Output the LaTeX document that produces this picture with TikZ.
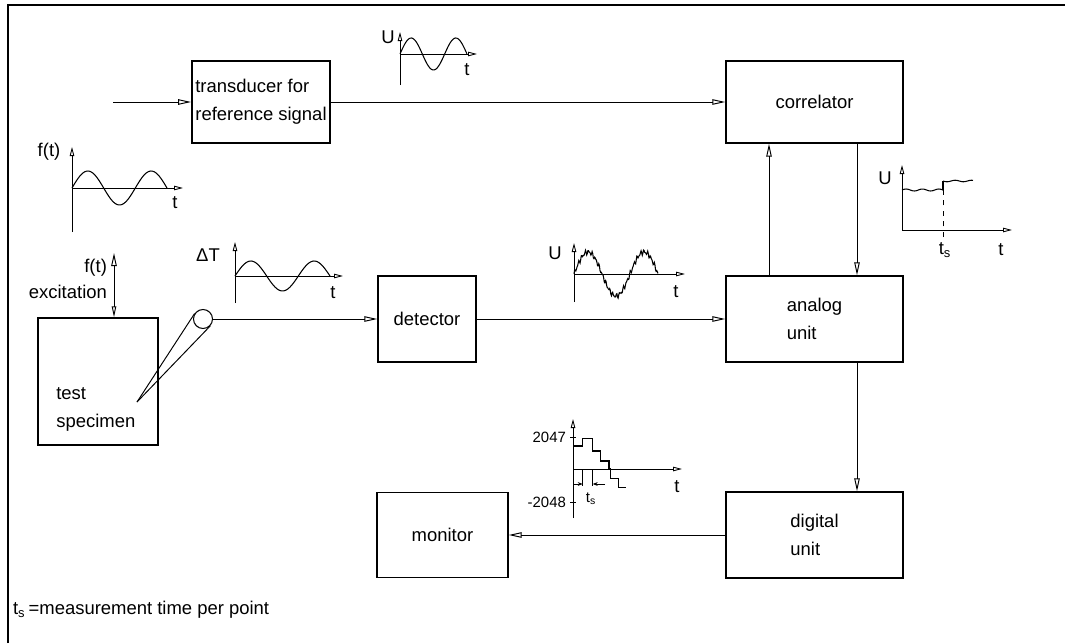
\documentclass[tikz,border=0pt]{standalone}
\usepackage{fontspec}
\setmainfont{Liberation Sans}
\usetikzlibrary{arrows.meta,positioning,calc}

\begin{document}
\begin{tikzpicture}[
  font=\fontsize{10.5}{16}\selectfont,
  blk/.style={draw,rectangle,line width=0.8pt,align=left,inner sep=2pt},
  arr/.style={-{Triangle[open,length=2.6mm,width=1.1mm]},line width=0.55pt},
  dbl/.style={{Triangle[open,length=2.6mm,width=1.1mm]}-{Triangle[open,length=2.2mm,width=0.9mm]},line width=0.55pt},
  axis/.style={-{Triangle[open,length=1.8mm,width=0.9mm]},line width=0.5pt},
  wave/.style={line width=0.6pt},
  lbl/.style={inner sep=1pt},
  small/.style={inner sep=1pt,font=\fontsize{8.5}{10}\selectfont}
]
\useasboundingbox (0,0) rectangle (21.3,12.86);
% Frame
\draw[line width=0.6pt] (0.16,0) -- (0.16,12.76) -- (21.3,12.76);
% Blocks
\node[blk,minimum width=2.72cm,minimum height=1.64cm] (trans) at (5.22,10.82) {transducer for\\reference signal};
\node[blk,minimum width=3.54cm,minimum height=1.64cm] (corr) at (16.29,10.82) {correlator};
\node[blk,minimum width=3.54cm,minimum height=1.72cm] (ana) at (16.29,6.48) {analog\\unit};
\node[blk,minimum width=1.96cm,minimum height=1.72cm] (det) at (8.54,6.48) {detector};
\node[blk,minimum width=2.40cm,minimum height=2.54cm] (spec) at (1.96,5.23) {};
\node[lbl,align=left,anchor=south west,inner sep=0pt] (spectxt) at (1.12,4.22) {test\\specimen};
\node[blk,minimum width=2.62cm,minimum height=1.70cm] (mon) at (8.85,2.16) {monitor};
\node[blk,minimum width=3.54cm,minimum height=1.72cm] (dig) at (16.29,2.16) {digital\\unit};
% Sensor with cone
\node[draw,circle,minimum size=0.38cm,inner sep=0pt,line width=0.6pt] (sens) at (4.06,6.48) {};
\coordinate (apex) at (2.74,4.82);
\draw[line width=0.55pt] (apex) -- (sens.316);
\draw[line width=0.55pt] (apex) -- (sens.147);
% Signal path
\coordinate (in) at (2.26,10.82);
\draw[arr] (in) -- (trans.west);
\draw[arr] (trans.east) -- (corr.west);
\draw[arr] (sens.east) -- (det.west);
\draw[arr] (det.east) -- (ana.west);
\draw[arr] ([xshift=-0.91cm]ana.north) -- ([xshift=-0.91cm]corr.south);
\draw[arr] ([xshift=0.85cm]corr.south) -- ([xshift=0.85cm]ana.north);
\draw[arr] ([xshift=0.85cm]ana.south) -- ([xshift=0.85cm]dig.north);
\draw[arr] (dig.west) -- (mon.east);
% Excitation
\coordinate (exc) at (2.28,7.80);
\draw[dbl] (exc) -- (exc |- spec.north);
\node[lbl,anchor=east] (ft) at (2.18,7.50) {f(t)};
\node[lbl,anchor=east] (exctxt) at (2.18,7.02) {excitation};
% Plot: excitation f(t)
\draw[axis] (1.44,8.22) -- (1.44,9.92);
\draw[axis] (1.44,9.10) -- (3.66,9.10);
\draw[wave,shift={(1.44,9.10)}] plot[domain=0:1.9,samples=60,smooth] (\x,{0.34*sin(540*\x/1.9)});
\node[lbl] (ftl) at (0.98,9.82) {f(t)};
\node[lbl] (ftt) at (3.50,8.80) {t};
% Plot: reference signal U
\draw[axis] (8.00,11.16) -- (8.00,12.22);
\draw[axis] (8.00,11.78) -- (9.54,11.78);
\draw[wave,shift={(8.00,11.78)}] plot[domain=0:1.34,samples=60,smooth] (\x,{0.32*sin(540*\x/1.34)});
\node[lbl] (ul1) at (7.76,12.12) {U};
\node[lbl] (ut1) at (9.34,11.46) {t};
% Plot: temperature Delta T
\draw[axis] (4.70,6.80) -- (4.70,8.02);
\draw[axis] (4.70,7.34) -- (6.86,7.34);
\draw[wave,shift={(4.70,7.34)}] plot[domain=0:1.9,samples=60,smooth] (\x,{0.30*sin(540*\x/1.9)});
\node[lbl] (dtl) at (4.16,7.76) {ΔT};
\node[lbl] (dtt) at (6.66,7.00) {t};
% Plot: noisy detector signal U
\draw[axis] (11.48,6.82) -- (11.48,8.00);
\draw[axis] (11.48,7.38) -- (13.70,7.38);
\draw[wave,shift={(11.48,7.38)}] plot[domain=0:1.68,samples=140] (\x,{0.44*sin(540*\x/1.68)+0.035*sin(5200*\x)+0.025*sin(8100*\x)});
\node[lbl] (ul2) at (11.10,7.80) {U};
\node[lbl] (ut2) at (13.52,7.02) {t};
% Plot: correlator output U
\draw[axis] (18.04,8.26) -- (18.04,9.56);
\draw[axis] (18.04,8.26) -- (20.24,8.26);
\draw[wave,shift={(18.04,8.26)}] plot[domain=0:0.82,samples=30,smooth] (\x,{0.80+0.02*sin(1100*\x)});
\draw[wave] (18.86,9.06) -- (18.86,9.24);
\draw[wave,shift={(18.04,8.26)}] plot[domain=0.82:1.42,samples=30,smooth] (\x,{0.98+0.015*sin(1100*\x)});
\draw[dashed,line width=0.5pt] (18.86,8.12) -- (18.86,9.06);
\node[lbl] (ul3) at (17.70,9.30) {U};
\node[lbl] (ts1) at (18.90,7.86) {t\textsubscript{s}};
\node[lbl] (ut3) at (20.02,7.86) {t};
% Plot: digitised values
\draw[axis] (11.46,2.50) -- (11.46,4.48);
\draw[axis] (11.46,3.48) -- (13.64,3.48);
\draw[wave] (11.466,3.94) -- (11.654,3.94) -- (11.654,4.086) -- (11.854,4.086) -- (11.854,3.84)
  -- (12.014,3.84) -- (12.014,3.64) -- (12.18,3.64) -- (12.18,3.48) -- (12.21,3.48)
  -- (12.21,3.294) -- (12.366,3.294) -- (12.366,3.114) -- (12.514,3.114);
\draw[line width=0.5pt] (11.40,4.12) -- (11.52,4.12);
\draw[line width=0.5pt] (11.40,2.82) -- (11.52,2.82);
\node[small,anchor=east] (vmax) at (11.36,4.12) {2047};
\node[small,anchor=east] (vmin) at (11.36,2.82) {-2048};
\draw[line width=0.4pt] (11.654,3.48) -- (11.654,3.14);
\draw[line width=0.4pt] (11.854,3.48) -- (11.854,3.14);
\draw[-{Stealth[length=1mm]},line width=0.4pt] (11.46,3.18) -- (11.654,3.18);
\draw[-{Stealth[length=1mm]},line width=0.4pt] (12.10,3.18) -- (11.854,3.18);
\node[small] (ts2) at (11.82,2.88) {t\textsubscript{s}};
\node[lbl] (ut4) at (13.54,3.12) {t};
% Legend
\node[lbl,anchor=west] (legend) at (0.22,0.66) {t\textsubscript{s}\,=measurement time per point};
\end{tikzpicture}
\end{document}
